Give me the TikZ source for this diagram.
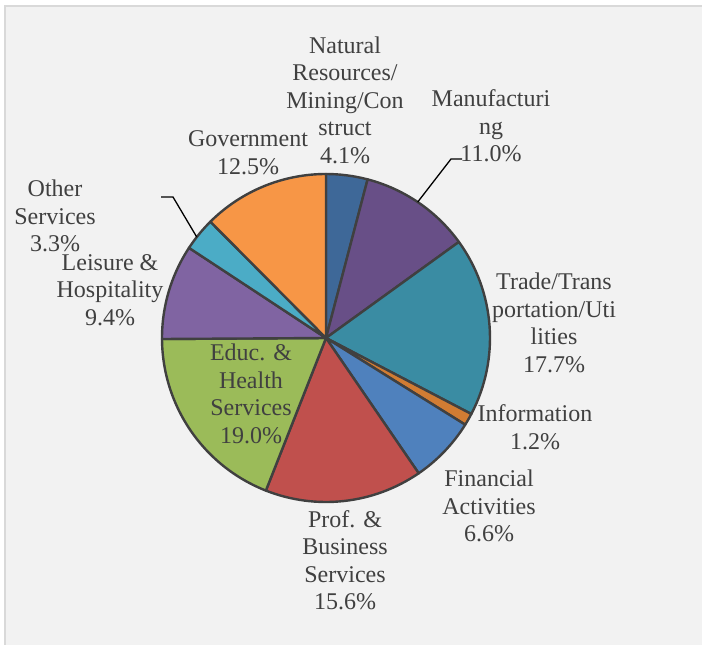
\documentclass[tikz,border=0pt]{standalone}
\usepackage{fontspec}
\setmainfont{Liberation Serif}
\usetikzlibrary{calc}
\definecolor{chartbg}{HTML}{F2F2F2}
\definecolor{framegray}{HTML}{D9D9D9}
\definecolor{textgray}{HTML}{404040}
\definecolor{natblue}{HTML}{3E6898}
\definecolor{manpurple}{HTML}{684F87}
\definecolor{tradeteal}{HTML}{3A8CA3}
\definecolor{infoorange}{HTML}{D17C33}
\definecolor{finblue}{HTML}{4F81BD}
\definecolor{profred}{HTML}{C0504D}
\definecolor{educgreen}{HTML}{9BBB59}
\definecolor{leipurple}{HTML}{8064A2}
\definecolor{othaqua}{HTML}{4BACC6}
\definecolor{govorange}{HTML}{F79646}
\tikzstyle{slice} = [draw=textgray, line width=1.2pt, line join=round]
\tikzstyle{pielabel} = [text=textgray, align=center, inner sep=0pt, font=\fontsize{12}{13.75}\selectfont]
\tikzstyle{leader} = [draw=black, line width=0.65pt]

\begin{document}
\begin{tikzpicture}[x=0.5pt, y=0.5pt]
        \useasboundingbox (0,0) rectangle (702,645);

        % Chart area
        \fill[chartbg] (6,0) rectangle (702,638);
        \fill[framegray] (4,0) rectangle (6,640);
        \fill[framegray] (4,638) rectangle (702,640);

        % Slices
        \coordinate (centre) at (326,307);
        \filldraw[slice, fill=natblue] (centre) -- ++(90:164) arc[start angle=90, end angle=75.30, radius=164] -- cycle;
        \filldraw[slice, fill=manpurple] (centre) -- ++(75.30:164) arc[start angle=75.30, end angle=35.86, radius=164] -- cycle;
        \filldraw[slice, fill=tradeteal] (centre) -- ++(35.86:164) arc[start angle=35.86, end angle=-27.61, radius=164] -- cycle;
        \filldraw[slice, fill=infoorange] (centre) -- ++(-27.61:164) arc[start angle=-27.61, end angle=-31.91, radius=164] -- cycle;
        \filldraw[slice, fill=finblue] (centre) -- ++(-31.91:164) arc[start angle=-31.91, end angle=-55.58, radius=164] -- cycle;
        \filldraw[slice, fill=profred] (centre) -- ++(-55.58:164) arc[start angle=-55.58, end angle=-111.51, radius=164] -- cycle;
        \filldraw[slice, fill=educgreen] (centre) -- ++(-111.51:164) arc[start angle=-111.51, end angle=-179.65, radius=164] -- cycle;
        \filldraw[slice, fill=leipurple] (centre) -- ++(-179.65:164) arc[start angle=-179.65, end angle=-213.35, radius=164] -- cycle;
        \filldraw[slice, fill=othaqua] (centre) -- ++(-213.35:164) arc[start angle=-213.35, end angle=-225.18, radius=164] -- cycle;
        \filldraw[slice, fill=govorange] (centre) -- ++(-225.18:164) arc[start angle=-225.18, end angle=-270, radius=164] -- cycle;

        % Labels
        \node[pielabel] (natural) at (345,545) {Natural\\Resources/\\Mining/Con\\struct\\4.1\%};
        \node[pielabel] (manufacturing) at (491,519) {Manufacturi\\ng\\11.0\%};
        \node[pielabel] (trade) at (554,322) {Trade/Trans\\portation/Uti\\lities\\17.7\%};
        \node[pielabel] (information) at (535,218) {Information\\1.2\%};
        \node[pielabel] (financial) at (489,139) {Financial\\Activities\\6.6\%};
        \node[pielabel] (professional) at (345,85) {Prof. \&\\Business\\Services\\15.6\%};
        \node[pielabel] (education) at (251,251) {Educ. \&\\Health\\Services\\19.0\%};
        \node[pielabel] (leisure) at (110,355) {Leisure \&\\Hospitality\\9.4\%};
        \node[pielabel] (other) at (55,429) {Other\\Services\\3.3\%};
        \node[pielabel] (government) at (248,492.5) {Government\\12.5\%};

        % Leader lines
        \coordinate (manrim) at ($(centre)+(56:164)$);
        \coordinate (manend) at (462,486);
        \draw[leader] (manrim) -- (451,486) -- (manend);
        \coordinate (othrim) at ($(centre)+(142:164)$);
        \coordinate (othend) at (161,448);
        \draw[leader] (othrim) -- (173,448) -- (othend);
    \end{tikzpicture}
\end{document}
